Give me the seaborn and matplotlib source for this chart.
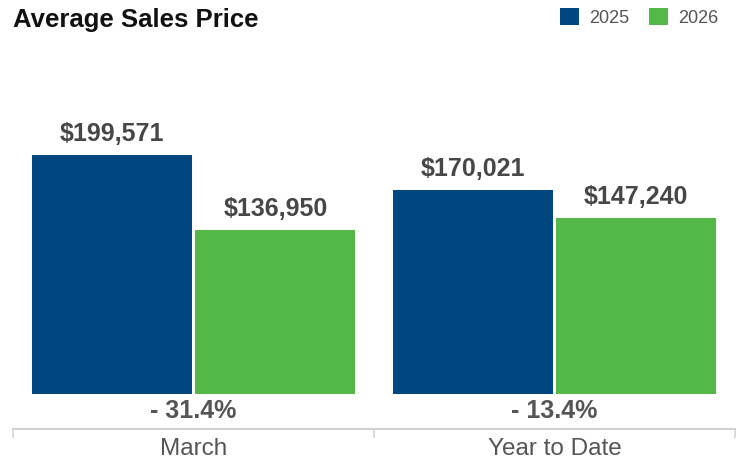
import pandas as pd
import numpy as np
import matplotlib.pyplot as plt
import seaborn as sns

# Werte aus dem Bild
periods = ["March", "Year to Date"]
years = ["2025", "2026"]
price_2025 = [199571, 170021]
price_2026 = [136950, 147240]

colors = ["#00467f", "#52b848"]

df = pd.DataFrame({
    "period": periods * 2,
    "year": [years[0]] * 2 + [years[1]] * 2,
    "price": price_2025 + price_2026,
})

sns.set_style("white")
plt.rcParams["font.family"] = ["Liberation Sans", "DejaVu Sans"]

W, H = 736, 461
fig = plt.figure(figsize=(W / 100, H / 100), dpi=100)

# Achse: von x=13 bis 735 px, von y=40 bis 429 px
ax = fig.add_axes([13 / W, (H - 429) / H, 722 / W, 389 / H])

sns.barplot(data=df, x="period", y="price", hue="year", palette=colors,
            width=0.907, gap=0.024, saturation=1, linewidth=0, ax=ax)

# Skalierung: 239 px fuer den hoechsten Balken, 35 px Luft unter der Null
k = 239 / max(price_2025)
ax.set_ylim(-35 / k, (389 - 35) / k)
ax.set_xlim(-0.5, 1.5)

# Wertbeschriftungen
for cont in ax.containers:
    ax.bar_label(cont, labels=[f"${v:,.0f}" for v in cont.datavalues],
                 padding=6.5, fontsize=18, fontweight="bold", color="#474747")

# Prozentuale Veraenderung
for i, (a, b) in enumerate(zip(price_2025, price_2026)):
    pct = (b - a) / a * 100
    sign = "-" if pct < 0 else "+"
    ax.text(i, 18 / 389, f"{sign} {abs(pct):.1f}%", transform=ax.get_xaxis_transform(),
            ha="center", va="center", fontsize=18, fontweight="bold", color="#555555")

# Achsen-Styling
for s in ["left", "right", "top"]:
    ax.spines[s].set_visible(False)
ax.spines["bottom"].set_color("#d0d0d0")
ax.spines["bottom"].set_linewidth(1.4)
ax.set_yticks([])
ax.set_xlabel("")
ax.set_ylabel("")
ax.set_xticks([0, 1])
ax.set_xticklabels(periods, fontsize=17.5, color="#555555")
ax.tick_params(axis="x", which="major", bottom=True, length=0, pad=6.5)
ax.set_xticks([-0.5, 0.5, 1.5], minor=True)
ax.tick_params(axis="x", which="minor", bottom=True, length=6.5, width=1.1,
               color="#d0d0d0", direction="out")

# Legende oben rechts
sns.move_legend(ax, "upper right", bbox_to_anchor=(718 / W, 1 - 8 / H),
                bbox_transform=fig.transFigure, ncol=2, title=None, frameon=False,
                fontsize=13, handlelength=1.05, handleheight=1.05, handletextpad=0.55,
                columnspacing=1.1, borderpad=0, borderaxespad=0)
for t in ax.get_legend().get_texts():
    t.set_color("#555555")

fig.text(13 / W, 1 - 27 / H, "Average Sales Price", fontsize=18.5, fontweight="bold",
         color="#111111", va="baseline", ha="left")

fig.savefig("out.png", dpi=100)
